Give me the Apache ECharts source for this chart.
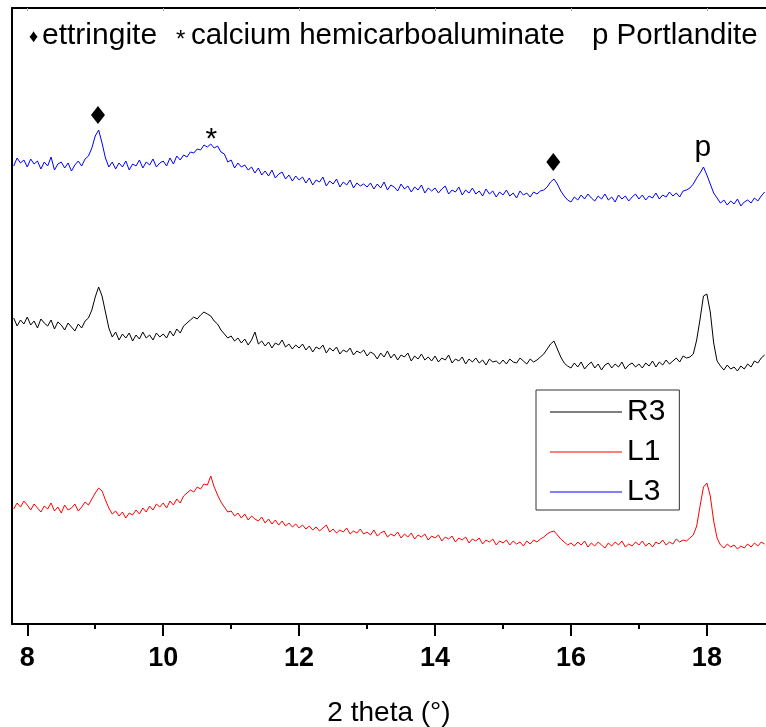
<!DOCTYPE html>
<html>
<head>
<meta charset="utf-8">
<script src="https://cdn.jsdelivr.net/npm/echarts@6/dist/echarts.min.js"></script>
<style>
  html, body { margin: 0; padding: 0; background: #fff; }
  #chart { width: 766px; height: 727px; }
</style>
</head>
<body>
<div id="chart"></div>
<script>
// step scan: 7.80 .. 18.85 deg, 0.05 deg per point (intensities offset per curve, arb. units)
const thetaStart = 7.8;
const thetaStep = 0.05;

const L3 = [
  458, 466, 461, 464,
  457, 465, 460, 463, 455, 462, 458, 467, 454, 460, 462, 456, 461, 453, 459, 463, 458, 465, 468, 476,
  488, 494, 481, 466, 457, 462, 455, 461, 457, 463, 454, 460, 458, 464, 456, 462, 459, 465, 457, 461,
  463, 458, 466, 460, 468, 464, 469, 467, 472, 471, 475, 474, 479, 477, 480, 476, 478, 472, 470, 462,
  464, 456, 461, 457, 459, 454, 457, 451, 456, 449, 453, 448, 454, 446, 450, 452, 445, 449, 443, 448,
  444, 447, 441, 446, 439, 444, 442, 447, 438, 443, 440, 445, 437, 442, 439, 444, 436, 441, 438, 440,
  437, 441, 435, 440, 436, 442, 434, 439, 437, 433, 440, 435, 438, 432, 437, 434, 439, 431, 436, 433,
  436, 431, 435, 438, 430, 434, 432, 437, 429, 434, 431, 436, 430, 433, 428, 435, 430, 433, 427, 432,
  429, 434, 428, 431, 426, 433, 429, 431, 427, 432, 430, 433, 434, 437, 442, 445, 440, 433, 428, 424,
  422, 427, 424, 429, 425, 430, 426, 423, 428, 425, 430, 424, 427, 422, 429, 425, 428, 423, 427, 430,
  425, 429, 424, 428, 426, 431, 425, 429, 427, 432, 428, 431, 427, 433, 434, 436, 440, 446, 451, 457,
  449, 440, 431, 426, 421, 424, 419, 423, 420, 425, 418, 422, 424, 421, 426, 423, 428, 432
];

const R3 = [
  306, 298, 304, 300,
  307, 299, 303, 296, 305, 301, 298, 304, 295, 302, 299, 294, 301, 297, 293, 300, 296, 303, 306, 314,
  327, 337, 328, 312, 296, 287, 292, 284, 290, 286, 291, 283, 289, 285, 292, 286, 289, 284, 291, 287,
  290, 286, 293, 288, 295, 291, 298, 301, 304, 307, 305, 309, 312, 310, 308, 303, 300, 294, 290, 286,
  288, 283, 286, 281, 285, 279, 284, 292, 280, 283, 278, 282, 276, 281, 279, 284, 277, 280, 275, 279,
  276, 280, 274, 278, 272, 277, 275, 279, 271, 276, 273, 277, 270, 274, 272, 276, 269, 273, 271, 274,
  268, 272, 270, 265, 271, 267, 273, 266, 270, 264, 269, 267, 271, 263, 268, 265, 270, 264, 267, 263,
  268, 262, 266, 264, 269, 261, 265, 263, 267, 260, 265, 262, 266, 261, 264, 259, 265, 262, 263, 260,
  264, 260, 265, 262, 261, 266, 263, 260, 265, 262, 264, 267, 270, 275, 280, 283, 275, 267, 261, 258,
  256, 261, 257, 262, 255, 259, 262, 256, 260, 254, 259, 261, 256, 260, 257, 262, 255, 259, 261, 257,
  260, 256, 261, 258, 263, 257, 262, 259, 264, 260, 263, 266, 262, 268, 266, 267, 270, 284, 305, 328,
  330, 312, 281, 263, 258, 254, 259, 255, 257, 253, 258, 255, 260, 257, 263, 261, 266, 269
];

const L1 = [
  115, 121, 117, 123,
  119, 114, 120, 116, 112, 118, 115, 121, 113, 117, 111, 119, 114, 116, 120, 113, 117, 122, 119, 125,
  131, 136, 133, 124, 116, 110, 113, 108, 112, 106, 111, 109, 114, 110, 116, 112, 118, 114, 120, 117,
  121, 116, 123, 119, 125, 121, 128, 131, 134, 132, 137, 135, 140, 139, 148, 137, 129, 122, 117, 112,
  113, 108, 111, 106, 110, 104, 108, 105, 103, 107, 101, 105, 100, 104, 99, 103, 98, 101, 97, 100,
  96, 99, 95, 98, 94, 97, 93, 96, 99, 92, 95, 91, 94, 92, 96, 90, 93, 91, 95, 90,
  92, 89, 94, 88, 91, 93, 87, 90, 88, 92, 86, 90, 87, 91, 85, 89, 87, 90, 84, 88,
  86, 89, 83, 87, 85, 88, 82, 86, 84, 87, 81, 85, 83, 86, 80, 84, 82, 85, 79, 83,
  81, 84, 79, 83, 80, 82, 78, 83, 80, 84, 82, 85, 87, 90, 92, 93, 89, 85, 82, 79,
  81, 78, 82, 79, 83, 77, 81, 78, 82, 79, 76, 81, 78, 82, 79, 83, 77, 80, 78, 82,
  79, 83, 78, 81, 77, 82, 80, 84, 79, 82, 80, 85, 82, 84, 83, 86, 89, 98, 118, 137,
  141, 128, 103, 86, 79, 76, 80, 77, 79, 75, 78, 76, 80, 77, 81, 78, 82, 80
];

const majorTicks = [8, 10, 12, 14, 16, 18];
const minorTicks = [9, 11, 13, 15, 17];

// peak markers drawn above the L3 curve: [label, theta, level]
const peakMarks = [
  ['diamond', 9.04, 509],
  ['*', 10.71, 484],
  ['diamond', 15.74, 462],
  ['p', 17.94, 476]
];

const FONT = 'Liberation Sans, Arial, sans-serif';

function toPairs(vals) {
  return vals.map((v, i) => [+(thetaStart + i * thetaStep).toFixed(2), v]);
}

const chart = echarts.init(document.getElementById('chart'));

const markData = peakMarks.map(([lab, x, y]) => {
  if (lab === 'diamond') {
    return { coord: [x, y], symbol: 'diamond', symbolSize: [14, 18], itemStyle: { color: '#000' }, label: { show: false } };
  }
  return {
    coord: [x, y], symbol: 'circle', symbolSize: 1, itemStyle: { color: 'rgba(0,0,0,0)' },
    label: { show: true, position: 'inside', formatter: lab, color: '#000', fontFamily: FONT, fontSize: 30 }
  };
});

const option = {
  animation: false,
  backgroundColor: '#fff',
  grid: { left: 12, right: 0, top: 8, bottom: 103, containLabel: false, outerBoundsMode: 'none' },
  xAxis: [
    {
      type: 'value', min: 7.775, max: 18.87,
      name: '2 theta (°)', nameLocation: 'middle', nameGap: 75,
      nameTextStyle: { fontFamily: FONT, fontSize: 28, color: '#000' },
      axisLine: { show: true, lineStyle: { color: '#000', width: 2 } },
      axisTick: { show: true, customValues: majorTicks, length: 12, lineStyle: { color: '#000', width: 2 } },
      axisLabel: { customValues: majorTicks, margin: 21, fontFamily: FONT, fontSize: 27, fontWeight: 'bold', color: '#000' },
      splitLine: { show: false }
    },
    {
      type: 'value', min: 7.775, max: 18.87, position: 'bottom',
      axisLine: { show: false },
      axisTick: { show: true, customValues: minorTicks, length: 5, lineStyle: { color: '#000', width: 2 } },
      axisLabel: { show: false },
      splitLine: { show: false }
    },
    {
      type: 'value', min: 7.775, max: 18.87, position: 'top',
      axisLine: { show: true, lineStyle: { color: '#000', width: 2 } },
      axisTick: { show: true, inside: true, customValues: majorTicks, length: 3, lineStyle: { color: '#aaa', width: 1 } },
      axisLabel: { show: false },
      splitLine: { show: false }
    }
  ],
  yAxis: {
    type: 'value', min: 0, max: 616,
    axisLine: { show: true, lineStyle: { color: '#000', width: 2 } },
    axisTick: { show: false },
    axisLabel: { show: false },
    splitLine: { show: false }
  },
  legend: {
    orient: 'vertical', left: 536, top: 390,
    data: [{ name: 'R3', icon: 'rect' }, { name: 'L1', icon: 'rect' }, { name: 'L3', icon: 'rect' }],
    itemWidth: 72, itemHeight: 1, itemGap: 10,
    padding: [7, 14, 3, 14],
    borderColor: '#333', borderWidth: 1,
    textStyle: { fontFamily: FONT, fontSize: 30, lineHeight: 30, color: '#000' }
  },
  graphic: [
    { type: 'text', left: 29, top: 28, style: { text: '♦', font: '18px ' + FONT, fill: '#000' } },
    { type: 'text', left: 42, top: 21, style: { text: 'ettringite', font: '30px ' + FONT, fill: '#000' } },
    { type: 'text', left: 176, top: 28, style: { text: '*', font: '24px ' + FONT, fill: '#000' } },
    { type: 'text', left: 191, top: 21, style: { text: 'calcium hemicarboaluminate', font: '29.5px ' + FONT, fill: '#000' } },
    { type: 'text', left: 592, top: 21, style: { text: 'p Portlandite', font: '29.5px ' + FONT, fill: '#000' } }
  ],
  series: [
    { name: 'R3', type: 'line', data: toPairs(R3), symbol: 'none', lineStyle: { color: '#000', width: 1 }, itemStyle: { color: '#000' } },
    { name: 'L1', type: 'line', data: toPairs(L1), symbol: 'none', lineStyle: { color: '#ff0000', width: 1 }, itemStyle: { color: '#ff0000' } },
    {
      name: 'L3', type: 'line', data: toPairs(L3), symbol: 'none', lineStyle: { color: '#0000ff', width: 1 }, itemStyle: { color: '#0000ff' },
      markPoint: { data: markData, silent: true }
    }
  ]
};

chart.setOption(option);
window.addEventListener('resize', () => chart.resize());
</script>
</body>
</html>
